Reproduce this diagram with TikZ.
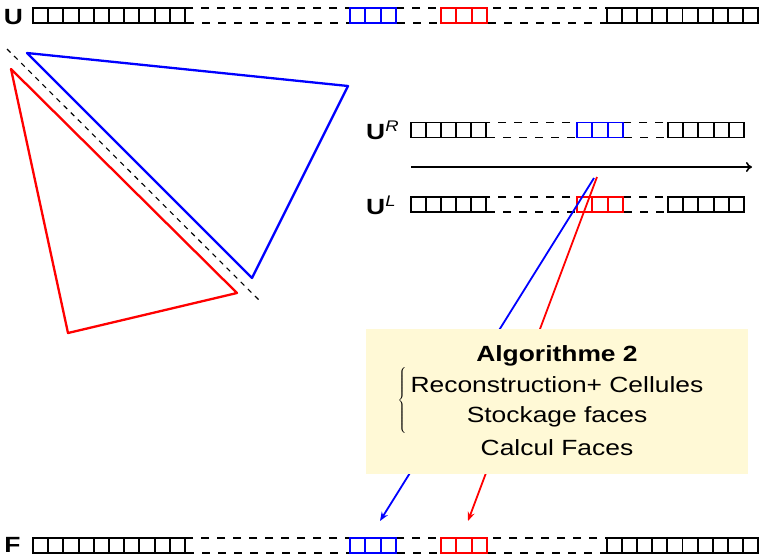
\documentclass[tikz,border=0pt]{standalone}
\usepackage{fontspec}
\setmainfont{Liberation Sans}
\usepackage{graphicx}
\usetikzlibrary{arrows.meta}
\definecolor{boxyellow}{RGB}{255,249,214}
\newcommand\hwide[1]{\scalebox{1.2}[1]{#1}}
\tikzset{
  cell/.style={line width=1.9pt},
  dashrow/.style={line width=1.9pt, dash pattern=on 8pt off 8pt},
  tri/.style={line width=2.3pt, line join=round},
  conn/.style={line width=1.8pt, -{Stealth[length=9pt,width=7pt]}},
  lbl/.style={inner sep=0pt, font=\fontsize{22}{26}\selectfont},
  boxtxt/.style={inner sep=0pt, anchor=base, font=\fontsize{22}{26}\selectfont}
}
% long row: #1 = top y
\newcommand\longrow[1]{%
  \draw[dashrow] (185,#1) rectangle (350,#1+15);
  \draw[dashrow] (396,#1) rectangle (441,#1+15);
  \draw[dashrow] (487,#1) rectangle (607,#1+15);
  \foreach \i in {0,...,9} \draw[cell] (33+\i*15.2,#1) rectangle ++(15.2,15);
  \foreach \i in {0,1,2} \draw[cell,blue] (350+\i*15.33,#1) rectangle ++(15.33,15);
  \foreach \i in {0,1,2} \draw[cell,red] (441+\i*15.33,#1) rectangle ++(15.33,15);
  \foreach \i in {0,...,9} \draw[cell] (607+\i*15.1,#1) rectangle ++(15.1,15);
}
% short row: #1 = top y, #2 = colour
\newcommand\shortrow[2]{%
  \draw[dashrow] (486,#1) rectangle (577,#1+15);
  \draw[dashrow] (623,#1) rectangle (668,#1+15);
  \foreach \i in {0,...,4} \draw[cell] (411+\i*15,#1) rectangle ++(15,15);
  \foreach \i in {0,1,2} \draw[cell,#2] (577+\i*15.33,#1) rectangle ++(15.33,15);
  \foreach \i in {0,...,4} \draw[cell] (668+\i*15.2,#1) rectangle ++(15.2,15);
}
\begin{document}
\begin{tikzpicture}[x=1pt,y=-1pt]
\useasboundingbox (0,0) rectangle (761,555);
% triangles
\draw[tri,blue] (27,53) -- (348,86) -- (252,278) -- cycle;
\draw[tri,red] (11,69) -- (237,293) -- (68,333) -- cycle;
\coordinate (d1) at (7,49);
\coordinate (d2) at (262,303);
\draw[line width=1.1pt, dash pattern=on 5pt off 5pt] (d1) -- (d2);
% rows
\longrow{8}
\longrow{538}
\shortrow{122.5}{blue}
\shortrow{197}{red}
% labels
\node[lbl, anchor=base] (U) at (13.5,24) {\hwide{\textbf{U}}};
\node[lbl, anchor=base] (F) at (12.5,552.5) {\hwide{\textbf{F}}};
\node[lbl, anchor=base west] (UR) at (366,139) {\hwide{\textbf{U}\textsuperscript{\textit{R}}}};
\node[lbl, anchor=base west] (UL) at (366,214) {\hwide{\textbf{U}\textsuperscript{\textit{L}}}};
% direction arrow
\coordinate (a1) at (411,167);
\coordinate (a2) at (752,167);
\draw[line width=1.6pt, -{To[length=6pt,width=10pt]}] (a1) -- (a2);
% connectors
\coordinate (bs) at (594,178);
\coordinate (be) at (380,521);
\coordinate (rs) at (597,177);
\coordinate (re) at (468,521);
\draw[conn,blue] (bs) -- (be);
\draw[conn,red] (rs) -- (re);
% box
\fill[boxyellow] (366,329) rectangle (748,474);
\node[boxtxt] (t1) at (557,361) {\hwide{\textbf{Algorithme 2}}};
\node[boxtxt] (t2) at (557,392) {\hwide{Reconstruction+ Cellules}};
\node[boxtxt] (t3) at (557,422) {\hwide{Stockage faces}};
\node[boxtxt] (t4) at (557,455) {\hwide{Calcul Faces}};
\node[inner sep=0pt, anchor=east] (br) at (408,401) {\fontsize{20}{24}\selectfont$\left\{\vrule height 28pt depth 28pt width 0pt\right.$};
\end{tikzpicture}
\end{document}
